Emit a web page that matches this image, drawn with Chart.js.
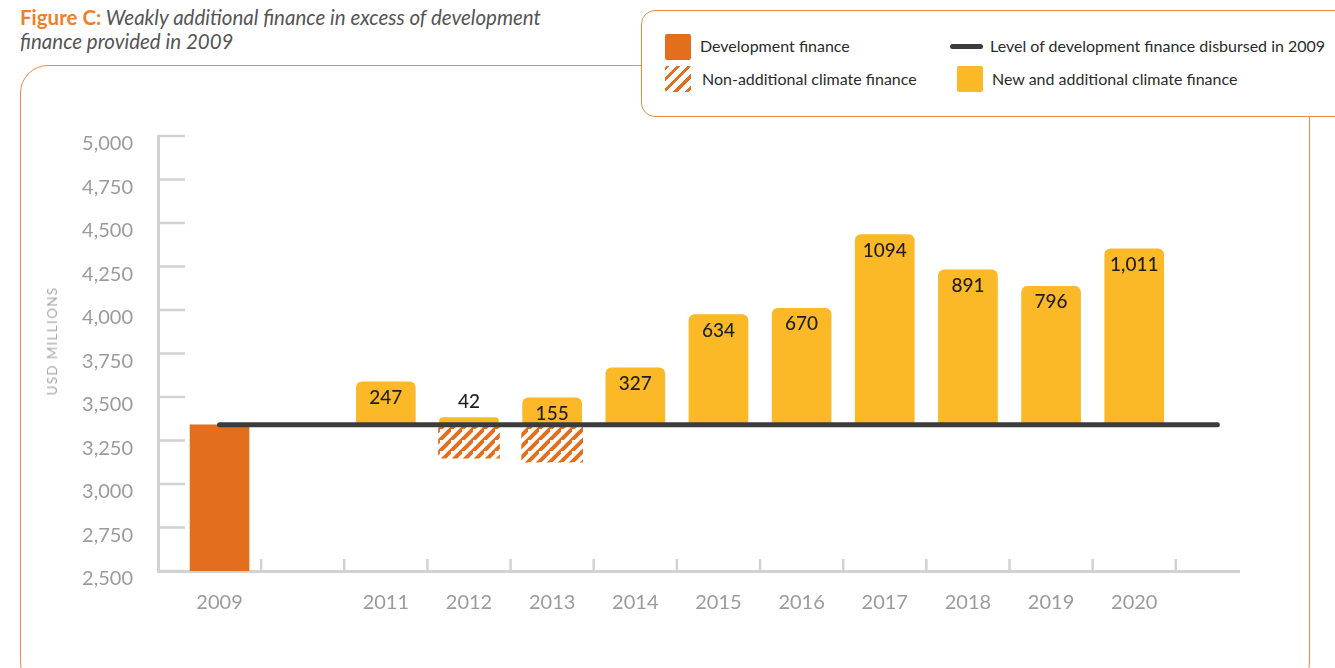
<!DOCTYPE html>
<html>
<head>
<meta charset="utf-8">
<script src="https://cdn.jsdelivr.net/npm/chart.js@4.4.1/dist/chart.umd.min.js"></script>
<style>
  body { margin: 0; width: 1335px; height: 668px; overflow: hidden; background: #fff; position: relative; font-family: Lato, 'Open Sans', sans-serif; }
  #title { position: absolute; left: 20px; top: 5px; font-size: 20.5px; line-height: 24px; color: #555; font-style: italic; }
  #title b { color: #ef7f2c; font-style: normal; }
  #frame { position: absolute; left: 20px; top: 65px; width: 1290px; height: 625px; border: 1.5px solid #eb8a45; border-radius: 28px; box-sizing: border-box; }
  #chartBox { position: absolute; left: 0; top: 0; width: 1335px; height: 668px; }
  #ytitle { position: absolute; left: 52px; top: 341px; transform: translate(-50%, -50%) rotate(-90deg); font-size: 13.5px; letter-spacing: 1.3px; color: #a8a8a8; white-space: nowrap; }
  #legend { position: absolute; left: 641px; top: 10px; width: 720px; height: 107px; border: 1.5px solid #eb8a45; border-radius: 14px; background: #fff; box-sizing: border-box; }
  .item { position: absolute; font-size: 16px; color: #2b2b2b; line-height: 20px; }
  .sw { position: absolute; width: 26px; height: 26px; border-radius: 2px; }
</style>
</head>
<body>
<div id="title"><b>Figure C:</b> Weakly additional finance in excess of development<br>finance provided in 2009</div>
<div id="frame"></div>
<div id="chartBox"><canvas id="chart" width="1335" height="668"></canvas></div>
<div id="ytitle">USD MILLIONS</div>
<div id="legend">
  <div class="sw" style="left:23px;top:23px;background:#e36f1e"></div>
  <div class="item" style="left:58px;top:25px">Development finance</div>
  <div class="sw" style="left:23px;top:55px;background:repeating-linear-gradient(135deg,#e36f1e 0 3px,#fff 3px 8px)"></div>
  <div class="item" style="left:60px;top:58px">Non-additional climate finance</div>
  <div style="position:absolute;left:308px;top:33px;width:33px;height:5px;border-radius:3px;background:#3c3c3c"></div>
  <div class="item" style="left:348px;top:25px">Level of development finance disbursed in 2009</div>
  <div class="sw" style="left:315px;top:55px;background:#fbb827"></div>
  <div class="item" style="left:350px;top:58px">New and additional climate finance</div>
</div>
<script>
const years = [2011, 2012, 2013, 2014, 2015, 2016, 2017, 2018, 2019, 2020];
const additional = [247, 42, 155, 327, 634, 670, 1094, 891, 796, 1011];
const additionalLabels = ['247', '42', '155', '327', '634', '670', '1094', '891', '796', '1,011'];
const nonAdditional = [0, 192, 215, 0, 0, 0, 0, 0, 0, 0];
const devYear = 2009;
const devFinance = 3340;
const levelLineYears = [2009, 2021];
const xLabelYears = [2009, 2011, 2012, 2013, 2014, 2015, 2016, 2017, 2018, 2019, 2020];

const FONT = 'Lato, "Open Sans", sans-serif';

const ctx = document.getElementById('chart').getContext('2d');

// hatch for the non-additional part
const makeHatch = () => {
  const s = 11;
  const c = document.createElement('canvas');
  c.width = s; c.height = s;
  const g = c.getContext('2d');
  g.fillStyle = '#fff';
  g.fillRect(0, 0, s, s);
  g.strokeStyle = '#e36f1e';
  g.lineWidth = 4;
  g.beginPath();
  g.moveTo(-s, s * 2); g.lineTo(s * 2, -s);
  g.moveTo(-s * 2, s); g.lineTo(s, -s * 2);
  g.moveTo(0, s * 2); g.lineTo(s * 2, 0);
  g.stroke();
  return ctx.createPattern(c, 'repeat');
};

const tickMarks = {
  id: 'tickMarks',
  beforeDatasetsDraw(chart) {
    const { ctx, chartArea, scales } = chart;
    ctx.save();
    ctx.strokeStyle = '#d2d2d2';
    ctx.lineWidth = 2.5;
    ctx.beginPath();
    scales.x.ticks.forEach(t => {
      if (t.value % 1 === 0) return;
      const px = scales.x.getPixelForValue(t.value);
      ctx.moveTo(px, chartArea.bottom);
      ctx.lineTo(px, chartArea.bottom - 12);
    });
    scales.y.ticks.forEach(t => {
      const py = scales.y.getPixelForValue(t.value);
      ctx.moveTo(chartArea.left, py);
      ctx.lineTo(chartArea.left + 27, py);
    });
    ctx.stroke();
    ctx.restore();
  }
};

const barLabels = {
  id: 'barLabels',
  afterDatasetsDraw(chart) {
    const meta = chart.getDatasetMeta(2);
    const { ctx } = chart;
    ctx.save();
    ctx.font = '500 19px ' + FONT;
    ctx.fillStyle = '#1e1e1e';
    ctx.textAlign = 'center';
    ctx.textBaseline = 'middle';
    meta.data.forEach((bar, i) => {
      const h = Math.abs(bar.base - bar.y);
      const y = h < 15 ? bar.y - 16 : bar.y + 16;
      ctx.fillText(additionalLabels[i], bar.x, y);
    });
    ctx.restore();
  }
};

const chart = new Chart(ctx, {
  data: {
    datasets: [
      {
        type: 'line',
        label: 'Level of development finance disbursed in 2009',
        data: levelLineYears.map(x => ({ x, y: devFinance })),
        borderColor: '#3c3c3c',
        borderWidth: 5,
        borderCapStyle: 'round',
        pointRadius: 0,
        order: 0
      },
      {
        type: 'bar',
        label: 'Development finance',
        data: [{ x: devYear, y: [2500, devFinance] }],
        backgroundColor: '#e36f1e',
        barThickness: 59,
        grouped: false,
        order: 2
      },
      {
        type: 'bar',
        label: 'New and additional climate finance',
        data: years.map((x, i) => ({ x, y: [devFinance, devFinance + additional[i]] })),
        backgroundColor: '#fbb827',
        borderRadius: { topLeft: 6, topRight: 6, bottomLeft: 0, bottomRight: 0 },
        borderSkipped: 'start',
        barThickness: 59,
        grouped: false,
        order: 2
      },
      {
        type: 'bar',
        label: 'Non-additional climate finance',
        data: years.map((x, i) => ({ x, y: [devFinance - nonAdditional[i], devFinance] })).filter((d, i) => nonAdditional[i] > 0),
        backgroundColor: makeHatch(),
        barThickness: 61,
        grouped: false,
        order: 2
      }
    ]
  },
  options: {
    responsive: false,
    animation: false,
    layout: { padding: { top: 136, right: 96, left: 0, bottom: 0 } },
    plugins: { legend: { display: false }, tooltip: { enabled: false } },
    scales: {
      x: {
        type: 'linear',
        offset: false,
        min: 2008.26,
        max: 2021.26,
        afterBuildTicks: s => {
          s.ticks = [];
          for (let v = 2009; v <= 2020.5; v += 0.5) s.ticks.push({ value: v });
        },
        afterFit: s => { s.height = 97; },
        grid: { display: false },
        border: { color: '#d2d2d2', width: 3 },
        ticks: {
          autoSkip: false,
          maxRotation: 0,
          padding: 12,
          color: '#9b9b9b',
          font: { size: 20, family: FONT },
          callback: v => xLabelYears.includes(v) ? String(v) : ''
        }
      },
      y: {
        min: 2500,
        max: 5000,
        afterFit: s => { s.width = 158; },
        grid: { display: false },
        border: { color: '#d2d2d2', width: 3 },
        ticks: {
          stepSize: 250,
          padding: 17,
          labelOffset: 8,
          color: '#9b9b9b',
          font: { size: 20, family: FONT },
          callback: v => v.toLocaleString('en-US')
        }
      }
    }
  },
  plugins: [tickMarks, barLabels]
});
</script>
</body>
</html>
